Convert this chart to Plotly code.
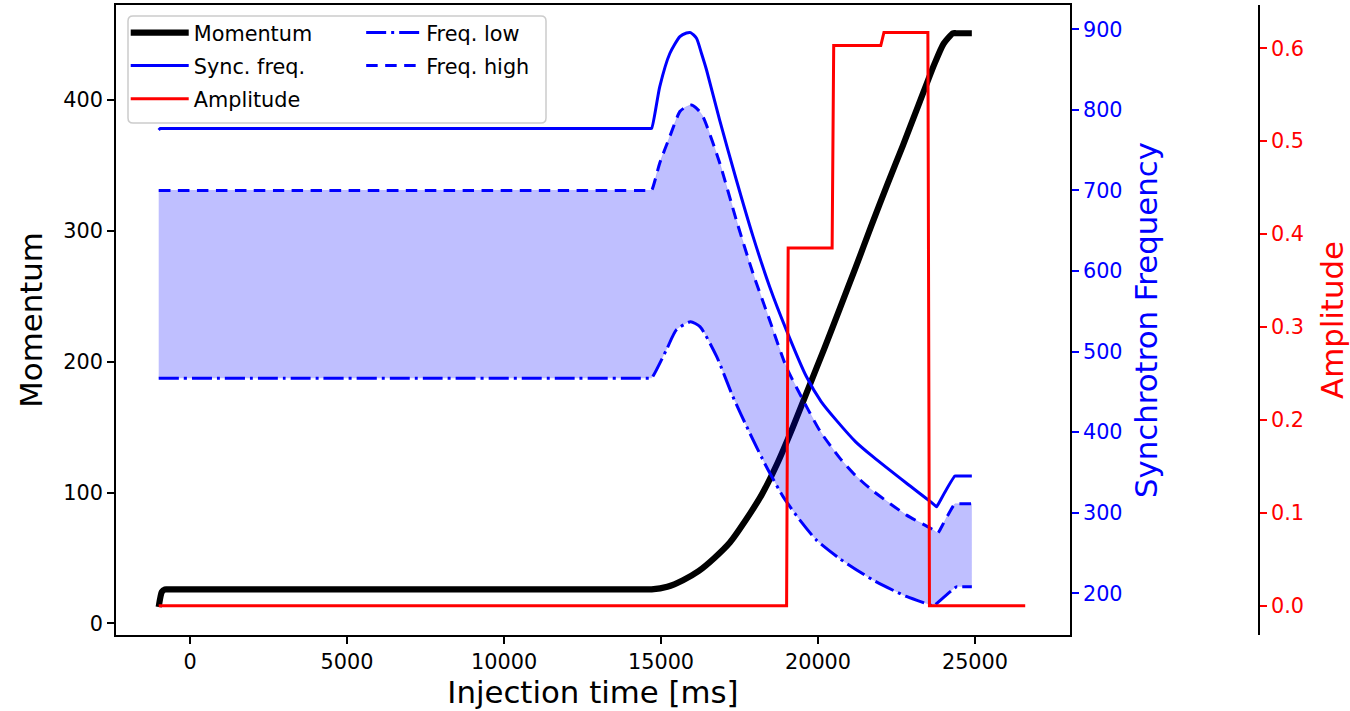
import plotly.graph_objects as go

# ---------------- data ----------------
mom_t = [-1000, -900, -800, -700, 3000, 8000, 12000, 14500, 14700, 15200, 15700, 16200,
         16700, 17200, 17700, 18200, 18700, 19200, 19700, 20200, 20700, 21200, 21700,
         22200, 22700, 23200, 23700, 24000, 24300, 24400, 24900]
mom_p = [12.5, 24, 26, 26, 26, 26, 26, 26, 26, 28, 33, 40,
         50, 62, 79, 98, 122, 150, 180, 210, 241, 272, 304,
         335, 365, 396, 427, 443, 451, 451, 451]

sync_t = [-1000, -950, -900, 3000, 8000, 12000, 14650, 14700, 14960, 15280, 15600, 15810,
          15940, 16130, 16290, 16450, 16870, 17400, 17930, 18460, 18990, 19630, 20100,
          20600, 21200, 21750, 22820, 23570, 23740, 23780, 23820, 24360, 24420, 24900]
sync_f = [775, 777, 777, 777, 777, 777, 777, 777, 829, 870, 891, 895.5,
          896, 889, 870, 849.5, 787, 713, 643, 580.5, 527, 469, 438,
          414, 388, 369.5, 336.5, 314, 308.5, 307.5, 310, 345.5, 345.5, 345.5]

high_t = [-1000, 3000, 8000, 12000, 14650, 14700, 14960, 15280, 15600, 15760, 15970,
          16180, 16340, 16870, 17400, 17930, 18460, 18990, 19630, 20070, 20690, 21200,
          21750, 22820, 23570, 23780, 23820, 23860, 24360, 24420, 24900]
high_f = [700, 700, 700, 700, 700, 700, 734, 767, 798, 803, 806,
          800, 791.5, 734, 663, 597, 539, 481, 432, 401, 368, 346,
          327, 297, 281, 275.5, 274.5, 277, 311, 311, 311]

low_t = [-1000, 3000, 8000, 12000, 14650, 14700, 15170, 15490, 15940, 16240, 16770,
         17290, 17825, 18357, 18888, 19417, 19949, 20690, 21750, 22815, 23570, 23640,
         23675, 23710, 24410, 24470, 24900]
low_f = [467, 467, 467, 467, 467, 467, 502, 527, 537, 531, 494,
         444, 399, 357, 320, 291, 266, 243, 216.5, 196, 185.5, 184.5,
         184, 185, 208, 208, 208]

amp_t = [-1000, 19000, 19050, 20450, 20500, 22000, 22100, 23500, 23550, 26600]
amp_v = [0, 0, 0.385, 0.385, 0.603, 0.603, 0.617, 0.617, 0, 0]

x_ticks = [0, 5000, 10000, 15000, 20000, 25000]
y1_ticks = [0, 100, 200, 300, 400]
y2_ticks = [200, 300, 400, 500, 600, 700, 800, 900]
y3_ticks = [0.0, 0.1, 0.2, 0.3, 0.4, 0.5, 0.6]

# ---------------- figure ----------------
FONT = "DejaVu Sans"
TICK = 20.8
TITLE = 30.8
BLUE = "#0000ff"
RED = "#ff0000"
SM = 0.6

fig = go.Figure()

fig.add_trace(go.Scatter(x=mom_t, y=mom_p, mode="lines", name="Momentum",
                         line=dict(color="black", width=6.2, shape="spline", smoothing=SM),
                         yaxis="y", legend="legend", legendgroup="m"))

# shaded band between low and high frequency
fig.add_trace(go.Scatter(x=low_t, y=low_f, mode="lines", showlegend=False,
                         line=dict(width=0, color="rgba(0,0,255,0)", shape="spline", smoothing=SM),
                         yaxis="y2", hoverinfo="skip"))
fig.add_trace(go.Scatter(x=high_t, y=high_f, mode="lines", showlegend=False,
                         line=dict(width=0.6, color="rgba(0,0,255,0.25)", shape="spline",
                                   smoothing=SM),
                         yaxis="y2", fill="tonexty", fillcolor="rgba(0,0,255,0.25)",
                         hoverinfo="skip"))

fig.add_trace(go.Scatter(x=sync_t, y=sync_f, mode="lines", name="Sync. freq.",
                         line=dict(color=BLUE, width=3, shape="spline", smoothing=SM),
                         yaxis="y2", legend="legend", legendgroup="s"))
fig.add_trace(go.Scatter(x=low_t, y=low_f, mode="lines", name="Freq. low",
                         line=dict(color=BLUE, width=3, dash="20px,5px,3px,5px",
                                   shape="spline", smoothing=SM),
                         yaxis="y2", legend="legend2", legendgroup="l"))
fig.add_trace(go.Scatter(x=high_t, y=high_f, mode="lines", name="Freq. high",
                         line=dict(color=BLUE, width=3, dash="11.5px,7.5px",
                                   shape="spline", smoothing=SM),
                         yaxis="y2", legend="legend2", legendgroup="h"))
fig.add_trace(go.Scatter(x=amp_t, y=amp_v, mode="lines", name="Amplitude",
                         line=dict(color=RED, width=3), yaxis="y3",
                         legend="legend", legendgroup="a"))

XD = 0.8346
axis_common = dict(showgrid=False, zeroline=False, ticks="outside", ticklen=7,
                   tickwidth=1.6, showline=True, linewidth=1.6, linecolor="black")

fig.update_layout(
    width=1350, height=711,
    margin=dict(l=116, r=91, t=5, b=76, autoexpand=False),
    paper_bgcolor="white", plot_bgcolor="white",
    font=dict(family=FONT, size=TICK, color="black"),
    xaxis=dict(domain=[0, XD], range=[-2360, 28025], tickmode="array",
               tickvals=x_ticks, ticktext=[str(v) for v in x_ticks],
               mirror=True, tickcolor="black",
               title=dict(text="Injection time [ms]", font=dict(size=TITLE), standoff=5),
               **axis_common),
    yaxis=dict(range=[-8.9, 472.6], tickmode="array", tickvals=y1_ticks,
               ticktext=[str(v) for v in y1_ticks], tickcolor="black",
               title=dict(text="Momentum", font=dict(size=TITLE), standoff=12),
               **axis_common),
    yaxis2=dict(range=[148.2, 930.2], overlaying="y", side="right", anchor="x",
                tickmode="array", tickvals=y2_ticks, ticktext=[str(v) for v in y2_ticks],
                tickcolor=BLUE, tickfont=dict(color=BLUE),
                title=dict(text="Synchrotron Frequency", font=dict(size=TITLE, color=BLUE),
                           standoff=14),
                **axis_common),
    yaxis3=dict(range=[-0.0315, 0.6466], overlaying="y", side="right", anchor="free",
                position=1.0, tickmode="array", tickvals=y3_ticks,
                ticktext=["%.1f" % v for v in y3_ticks],
                tickcolor=RED, tickfont=dict(color=RED),
                title=dict(text="Amplitude", font=dict(size=TITLE, color=RED), standoff=18),
                **axis_common),
    legend=dict(x=0.0085, y=0.988, xanchor="left", yanchor="top",
                bgcolor="rgba(0,0,0,0)", borderwidth=0, font=dict(size=TICK),
                traceorder="grouped", tracegroupgap=3, itemwidth=58),
    legend2=dict(x=0.2145, y=0.988, xanchor="left", yanchor="top",
                 bgcolor="rgba(0,0,0,0)", borderwidth=0, font=dict(size=TICK),
                 traceorder="grouped", tracegroupgap=3, itemwidth=55),
)

# legend frame (rounded box)
W = 1350 - 116 - 91
H = 711 - 5 - 76
def px2paper(px, py):
    return (px - 116) / W, 1 - (py - 5) / H
x0, y0 = px2paper(128, 16)
x1, y1 = px2paper(546, 123)
rx, ry = 5 / W, 5 / H
path = (f"M {x0+rx},{y0} L {x1-rx},{y0} Q {x1},{y0} {x1},{y0-ry} "
        f"L {x1},{y1+ry} Q {x1},{y1} {x1-rx},{y1} L {x0+rx},{y1} "
        f"Q {x0},{y1} {x0},{y1+ry} L {x0},{y0-ry} Q {x0},{y0} {x0+rx},{y0} Z")
fig.add_shape(type="path", path=path, xref="paper", yref="paper",
              line=dict(color="#cccccc", width=1.5),
              fillcolor="rgba(255,255,255,0.8)", layer="above")

fig.write_html("out.html")
